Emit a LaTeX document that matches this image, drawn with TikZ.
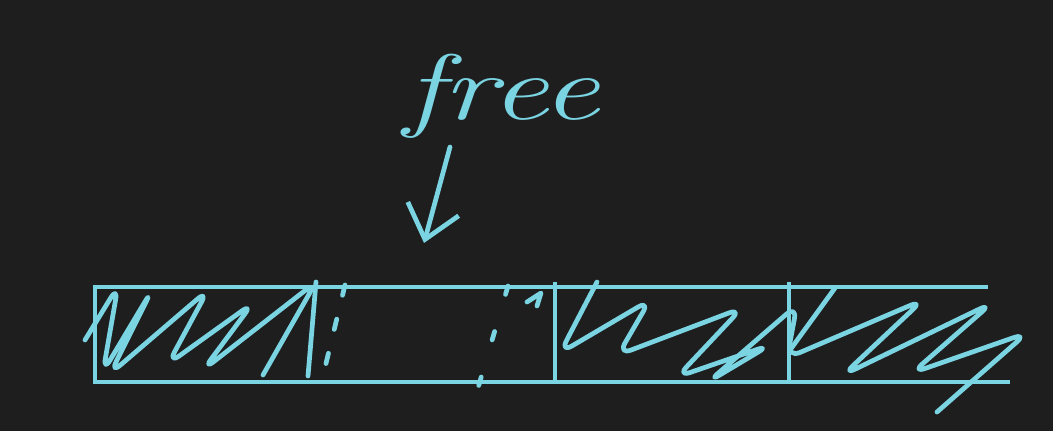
\documentclass[tikz,border=0pt]{standalone}
\usepackage{fontspec}
\usetikzlibrary{arrows.meta}
\definecolor{board}{RGB}{30,30,30}
\definecolor{chalk}{RGB}{122,212,226}

\begin{document}
\begin{tikzpicture}[x=0.02cm,y=-0.02cm,
    pen/.style={chalk,line width=2.7pt,line cap=round,line join=round},
    rule/.style={chalk,line width=1.9pt},
    hatch/.style={pen,rounded corners=8pt}]
  \fill[board] (0,0) rectangle (1053,431);
  \useasboundingbox (0,0) rectangle (1053,431);
  \node[chalk,font=\fontsize{46}{52}\selectfont\itshape,xscale=1.6,yscale=1.15,transform shape] (free) at (502,96) {free};
  \coordinate (tail) at (450,147);
  \coordinate (slot) at (424,243);
  \draw[pen,-{Straight Barb[length=18pt,width=30pt]}] (tail) -- (slot);
  % array
  \draw[rule] (988,287) -- (95,287) -- (95,382) -- (1010,382);
  \draw[rule] (555,282) -- (555,382);
  \draw[rule] (789,282) -- (789,383);
  % freed slot
  \draw[pen,dash pattern=on 6pt off 14pt] (345,285) -- (322,380);
  \draw[pen,dash pattern=on 5pt off 22pt] (508,286) -- (478,388);
  \draw[pen] (527,302) -- (541,293) -- (537,306);
  % used slots
  \draw[hatch] (85,340) -- (118,286) -- (103,372) -- (152,290) -- (110,374)
    -- (208,290) -- (168,364) -- (253,303) -- (203,370) -- (316,282) -- (263,375);
  \draw[pen] (316,282) -- (308,376);
  \draw[hatch] (597,282) -- (560,353) -- (650,300) -- (618,355) -- (742,308)
    -- (677,377) -- (770,345) -- (708,382) -- (797,305) -- (787,358) -- (923,300)
    -- (843,375) -- (992,303) -- (912,373) -- (1027,333) -- (937,412);
  \draw[pen] (835,288) -- (790,350);
\end{tikzpicture}
\end{document}
